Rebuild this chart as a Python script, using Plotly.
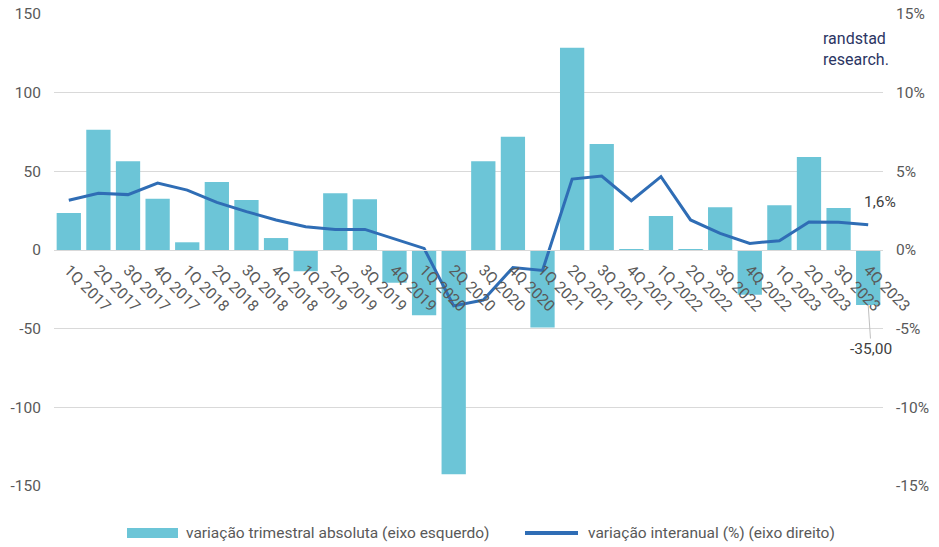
import plotly.graph_objects as go

categories = ["1Q 2017", "2Q 2017", "3Q 2017", "4Q 2017",
              "1Q 2018", "2Q 2018", "3Q 2018", "4Q 2018",
              "1Q 2019", "2Q 2019", "3Q 2019", "4Q 2019",
              "1Q 2020", "2Q 2020", "3Q 2020", "4Q 2020",
              "1Q 2021", "2Q 2021", "3Q 2021", "4Q 2021",
              "1Q 2022", "2Q 2022", "3Q 2022", "4Q 2022",
              "1Q 2023", "2Q 2023", "3Q 2023", "4Q 2023"]

quarterly_abs = [23.5, 76.5, 56.4, 32.5,
                 4.9, 43.2, 31.8, 7.6,
                 -13.5, 36.0, 32.2, -20.8,
                 -41.5, -142.6, 56.4, 72.0,
                 -49.2, 128.6, 67.4, 0.5,
                 21.6, 0.5, 27.1, -28.4,
                 28.4, 59.1, 26.7, -35.0]

yoy_pct = [3.16, 3.6, 3.52, 4.26,
           3.81, 3.03, 2.44, 1.91,
           1.48, 1.31, 1.31, 0.7,
           0.1, -3.55, -3.18, -1.12,
           -1.3, 4.51, 4.7, 3.13,
           4.66, 1.91, 1.06, 0.42,
           0.59, 1.78, 1.76, 1.6]

left_ticks = [-150, -100, -50, 0, 50, 100, 150]
left_tick_labels = ["-150", "-100", "-50", "0", "50", "100", "150"]
right_ticks = [-15, -10, -5, 0, 5, 10, 15]
right_tick_labels = ["-15%", "-10%", "-5%", "0%", "5%", "10%", "15%"]

bar_name = "variação trimestral absoluta (eixo esquerdo)"
line_name = "variação interanual (%) (eixo direito)"
logo_lines = ["randstad", "research."]

FONT = "Roboto, sans-serif"
TXT = "#595959"
GRID = "#d9d9d9"
BAR_C = "#6cc5d7"
LINE_C = "#2f6db5"
FS = 15.5

W, H = 939, 547
ML, MR, MT, MB = 54, 56, 14, 61
PW, PH = W - ML - MR, H - MT - MB


def px_x(px):
    return (px - ML) / PW


def px_y(py):
    return (H - MB - py) / PH


fig = go.Figure()
fig.add_trace(go.Bar(x=categories, y=quarterly_abs, name=bar_name,
                     marker=dict(color=BAR_C, line=dict(width=0)),
                     yaxis="y", showlegend=False))
fig.add_trace(go.Scatter(x=categories, y=yoy_pct, name=line_name, mode="lines",
                         line=dict(color=LINE_C, width=3), yaxis="y2",
                         showlegend=False))

# data labels
fig.add_annotation(x=categories[-1], y=yoy_pct[-1], yref="y2", text="1,6%",
                   showarrow=False, xshift=12, yshift=23,
                   font=dict(family=FONT, size=FS, color="#404040"))
fig.add_annotation(x=categories[-1], y=quarterly_abs[-1], yref="y", text="-35,00",
                   showarrow=True, arrowhead=0, arrowwidth=1, arrowcolor="#bfbfbf",
                   ax=3, ay=44, standoff=0,
                   font=dict(family=FONT, size=FS, color="#404040"))

# logo
fig.add_annotation(xref="paper", yref="paper", x=px_x(821), y=px_y(49),
                   xanchor="left", yanchor="middle", align="left",
                   text="<br>".join(logo_lines), showarrow=False,
                   font=dict(family=FONT, size=16, color="#2b3563"))

# legend (drawn)
fig.add_shape(type="rect", xref="paper", yref="paper",
              x0=px_x(127), x1=px_x(178), y0=px_y(538), y1=px_y(528),
              fillcolor=BAR_C, line=dict(width=0))
fig.add_shape(type="line", xref="paper", yref="paper",
              x0=px_x(525), x1=px_x(578), y0=px_y(533), y1=px_y(533),
              line=dict(color=LINE_C, width=4))
fig.add_annotation(xref="paper", yref="paper", x=px_x(184), y=px_y(533),
                   xanchor="left", yanchor="middle", text=bar_name, showarrow=False,
                   font=dict(family=FONT, size=FS, color=TXT))
fig.add_annotation(xref="paper", yref="paper", x=px_x(586), y=px_y(533),
                   xanchor="left", yanchor="middle", text=line_name, showarrow=False,
                   font=dict(family=FONT, size=FS, color=TXT))

fig.update_layout(
    width=W, height=H,
    margin=dict(l=ML, r=MR, t=MT, b=MB, autoexpand=False),
    plot_bgcolor="white", paper_bgcolor="white",
    font=dict(family=FONT, size=FS, color=TXT),
    bargap=0.18,
    showlegend=False,
    xaxis=dict(anchor="free", position=0.5, tickangle=45, showgrid=False,
               range=[-0.5, len(categories) - 0.5],
               showline=True, linecolor=GRID, linewidth=1, ticks="",
               ticklabelstandoff=4,
               tickfont=dict(family=FONT, size=FS, color=TXT)),
    yaxis=dict(range=[-150, 150], tickvals=left_ticks, ticktext=left_tick_labels,
               showgrid=True, gridcolor=GRID,
               zeroline=False, ticks="", ticklabelstandoff=12,
               tickfont=dict(family=FONT, size=FS, color=TXT)),
    yaxis2=dict(range=[-15, 15], tickvals=right_ticks, ticktext=right_tick_labels,
                overlaying="y", side="right", showgrid=False, zeroline=False,
                ticks="", ticklabelstandoff=12,
                tickfont=dict(family=FONT, size=FS, color=TXT)),
)

fig.write_html("out.html")
